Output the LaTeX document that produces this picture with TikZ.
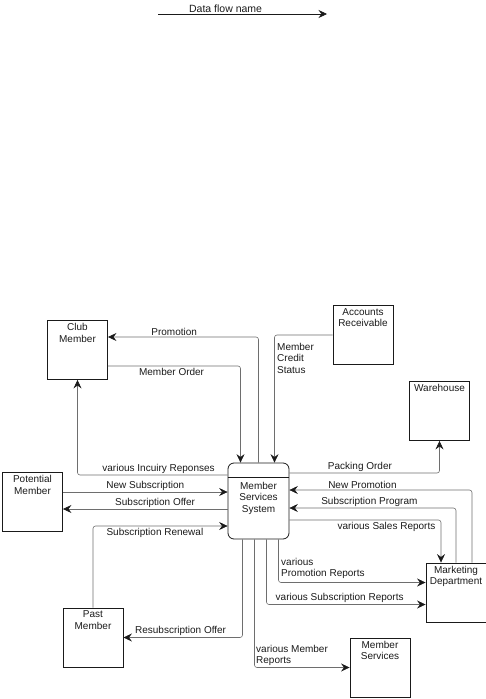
\documentclass[tikz,border=0pt]{standalone}
\usepackage{fontspec}
\setmainfont{Liberation Sans}
\usepackage{tikz}
\usetikzlibrary{positioning,arrows.meta}
\definecolor{FlowGray}{HTML}{6E6E6E}
\definecolor{InkDark}{HTML}{1A1A1A}

\begin{document}
\begin{tikzpicture}[
      x=1pt, y=-1pt,
      every node/.style={font=\fontsize{10}{11.5}\selectfont, text=InkDark},
      ent/.style={draw=InkDark, line width=0.9pt, minimum width=60pt,
          minimum height=59pt, inner sep=0pt},
      etext/.style={anchor=north, align=center, inner sep=3pt},
      proc/.style={draw=InkDark, line width=0.8pt, rounded corners=6pt,
          minimum width=61pt, minimum height=76pt, align=center, inner sep=0pt},
      flow/.style={draw=FlowGray, line width=0.6pt, rounded corners=2.5pt,
          -{Stealth[InkDark,length=8.5pt,width=8pt,inset=3pt]}},
      fl/.style={inner sep=1.5pt},
    ]
    \useasboundingbox (0,0) rectangle (486,699);

    % legend
    \coordinate (lgA) at (158,14);
    \coordinate (lgB) at (327,14);
    \draw[flow,draw=InkDark] (lgA) -- (lgB)
    node[pos=0.4, above, fl, font=\fontsize{10.5}{12}\selectfont]{Data flow name};

    % external entities
    \node[ent, label={[etext]north:Club\\Member}] (club) at (77.5,350) {};
    \node[ent, label={[etext]north:Accounts\\Receivable}] (acct) at (363,335) {};
    \node[ent, label={[etext]north:Warehouse}] (wh) at (439.5,411) {};
    \node[ent, label={[etext]north:Potential\\Member}] (pot) at (32.5,502) {};
    \node[ent, label={[etext]north:Marketing\\Department}] (mkt) at (456,592.5) {};
    \node[ent, label={[etext]north:Past\\Member}] (past) at (93,637.5) {};
    \node[ent, label={[etext]north:Member\\Services}] (msvc) at (380,667.5) {};

    % process
    \node[proc] (mss) at (258.5,501) {};
    \draw[InkDark, line width=0.4pt]
    ([yshift=-15pt]mss.north west) -- ([yshift=-15pt]mss.north east);
    \node[align=center] (msst) at (258.5,498) {Member\\Services\\System};

    % club member
    \draw[flow] (mss.north) |- ([yshift=13pt]club.east)
    node[pos=0.78, above, fl]{Promotion};
    \draw[flow] ([yshift=-16pt]club.east) -| ([xshift=-18pt]mss.north)
    node[pos=0.24, below, fl]{Member Order};
    \draw[flow] ([yshift=26pt]mss.west) -| (club.south)
    node[pos=0.23, above, fl]{various Incuiry Reponses};

    % accounts receivable
    \draw[flow] (acct.west) -| ([xshift=16pt]mss.north);
    \node[anchor=north west, align=left, inner sep=0pt] (mcs) at (277,343)
    {Member\\Credit\\Status};

    % potential member
    \draw[flow] ([yshift=10pt]pot.east) -- ([yshift=10pt]pot.east -| mss.west)
    node[midway, above, fl]{New Subscription};
    \draw[flow] ([yshift=-8pt]mss.west) -- ([yshift=-8pt]mss.west -| pot.east)
    node[pos=0.44, above, fl]{Subscription Offer};

    % past member
    \draw[flow] (past.north) |- ([yshift=-25pt]mss.west)
    node[pos=0.73, below, fl]{Subscription Renewal};
    \draw[flow] ([xshift=-16pt]mss.south) |- (past.east)
    node[pos=0.76, above, fl]{Resubscription Offer};

    % member services
    \draw[flow] ([xshift=-4pt]mss.south) |- (msvc.west);
    \node[anchor=north west, align=left, inner sep=0pt] (vmr) at (256,645)
    {various Member\\Reports};

    % marketing department
    \draw[flow] ([xshift=20pt]mss.south) |- ([yshift=10pt]mkt.west);
    \node[anchor=north west, align=left, inner sep=0pt] (vpr) at (281,558)
    {various\\Promotion Reports};
    \draw[flow] ([xshift=8pt]mss.south) |- ([yshift=-12pt]mkt.west)
    node[pos=0.73, above, fl]{various Subscription Reports};
    \draw[flow] ([xshift=16pt]mkt.north) |- ([yshift=11pt]mss.east)
    node[pos=0.8, above, fl]{New Promotion};
    \draw[flow] (mkt.north) |- ([yshift=-7pt]mss.east)
    node[pos=0.76, above, fl]{Subscription Program};
    \draw[flow] ([yshift=-19pt]mss.east) -| ([xshift=-15pt]mkt.north)
    node[pos=0.32, below, fl]{various Sales Reports};

    % warehouse
    \draw[flow] ([yshift=28pt]mss.east) -| (wh.south)
    node[pos=0.235, above, fl]{Packing Order};
  \end{tikzpicture}
\end{document}
